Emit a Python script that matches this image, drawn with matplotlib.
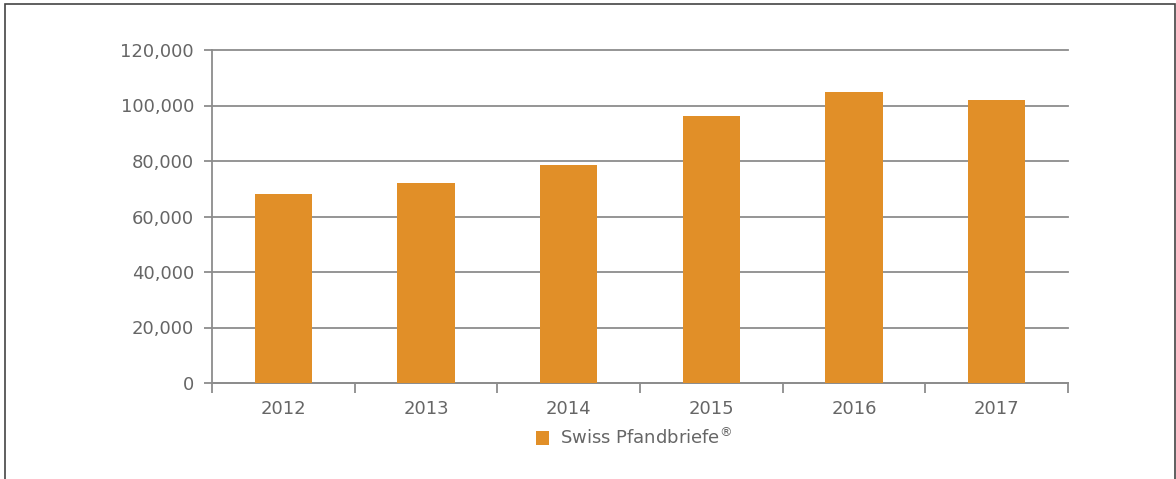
import numpy as np
import matplotlib.pyplot as plt
from matplotlib.patches import Rectangle
from matplotlib.ticker import FuncFormatter

years = ['2012', '2013', '2014', '2015', '2016', '2017']
values = [68000, 72000, 78700, 96200, 104900, 101900]
series_label = 'Swiss Pfandbriefe$^{\u00ae}$'

bar_color = '#e18f28'
text_color = '#666666'
grid_color = '#8c8c8c'

plt.rcParams['font.family'] = ['DejaVu Sans']
plt.rcParams['mathtext.fontset'] = 'dejavusans'

fig = plt.figure(figsize=(11.76, 4.79), dpi=100)
# outer frame
fig.patches.append(Rectangle((5 / 1176, -0.05), 1170 / 1176, 1.05 - 4 / 479,
                             transform=fig.transFigure, fill=False,
                             edgecolor='#444444', linewidth=1.2))

ax = fig.add_axes([212 / 1176, 96 / 479, 856 / 1176, 333 / 479])
x = np.arange(len(years))
ax.bar(x, values, width=0.4, color=bar_color, label=series_label, zorder=3)

ax.set_xlim(-0.5, len(years) - 0.5)
ax.set_ylim(0, 120000)
ax.set_yticks(np.arange(0, 120001, 20000))
ax.yaxis.set_major_formatter(FuncFormatter(lambda v, p: '{:,.0f}'.format(v)))
ax.grid(axis='y', color=grid_color, linewidth=1.3, zorder=0)
for gl in ax.get_ygridlines():
    gl.set_clip_on(False)

ax.set_xticks(x)
ax.set_xticklabels(years)
ax.set_xticks(np.arange(-0.5, len(years)), minor=True)
ax.tick_params(axis='x', which='major', length=0, pad=12, labelsize=13, labelcolor=text_color)
ax.tick_params(axis='x', which='minor', length=7, width=1.3, color=grid_color)
ax.tick_params(axis='y', length=6, width=1.3, color=grid_color, labelsize=13,
               labelcolor=text_color, pad=7)

for side in ['top', 'right']:
    ax.spines[side].set_visible(False)
for side in ['left', 'bottom']:
    ax.spines[side].set_color(grid_color)
    ax.spines[side].set_linewidth(1.3)

leg = fig.legend(loc='center', bbox_to_anchor=(634 / 1176, 1 - 438 / 479),
                 frameon=False, fontsize=13, handlelength=0.75, handleheight=0.75,
                 handletextpad=0.6)
for t in leg.get_texts():
    t.set_color(text_color)

fig.savefig('out.png', dpi=100)
